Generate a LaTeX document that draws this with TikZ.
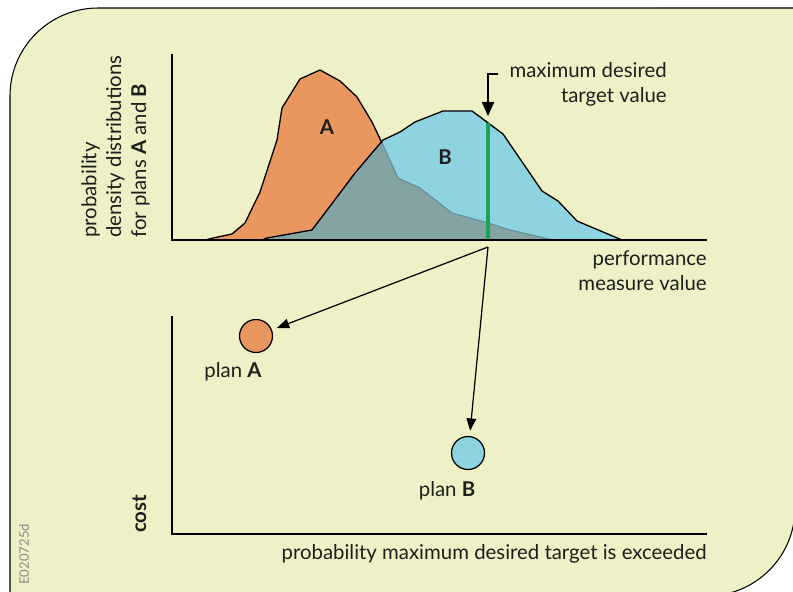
\documentclass[tikz,border=0pt]{standalone}
\usepackage{fontspec}
\setmainfont{Lato}
\usetikzlibrary{arrows.meta}

\definecolor{panel}{HTML}{EEF0C6}
\definecolor{planorange}{HTML}{E9965F}
\definecolor{planblue}{HTML}{8DD4E0}
\definecolor{overlap}{HTML}{84A4A4}
\definecolor{hiddenedge}{HTML}{5F8E98}
\definecolor{targetgreen}{HTML}{1BA35C}
\definecolor{textgray}{HTML}{1E1E1E}

\newcommand{\curveA}{(205,240) -- (213,238) -- (232,234) -- (245,223) -- (260,192) -- (277,140) -- (282,108) -- (300,79) -- (320,70) -- (340,81) -- (357,97) -- (372,122) -- (382,143) -- (398,178) -- (420,188) -- (452,213) -- (488,223) -- (510,230) -- (553,240)}
\newcommand{\curveB}{(262,240) -- (267,238) -- (312,230) -- (340,193) -- (355,173) -- (383,140) -- (400,132) -- (415,122) -- (443,111) -- (472,111) -- (503,134) -- (542,191) -- (558,201) -- (577,221) -- (622,240)}

\begin{document}
\begin{tikzpicture}[x=0.02cm,y=-0.02cm,
  every node/.style={font=\fontsize{11.6}{14.2}\selectfont, text=textgray, inner sep=0pt},
  axis/.style={line width=1.6pt, line join=miter},
  edge/.style={line width=0.75pt, line join=round},
  pointer/.style={line width=0.7pt, -{Triangle[length=7pt,width=5.5pt]}},
  plan/.style={circle, draw=black, line width=0.7pt, minimum size=0.66cm}]

\useasboundingbox (0,0) rectangle (793,591);
\clip (0,0) rectangle (793,591);

% panel
\draw[fill=panel, line width=0.6pt] (10,596) -- (10,96) arc[start angle=180, end angle=90, radius=1.76cm] -- (795,8) -- (795,508) arc[start angle=0, end angle=-90, radius=1.76cm] -- cycle;

% distributions
\fill[planblue] \curveB -- cycle;
\fill[planorange] \curveA -- cycle;
\begin{scope}
\clip \curveA -- cycle;
\fill[overlap] \curveB -- cycle;
\end{scope}
\draw[edge] (205,240) -- (213,238) -- (232,234) -- (245,223) -- (260,192) -- (277,140) -- (282,108) -- (300,79) -- (320,70) -- (340,81) -- (357,97) -- (372,122) -- (382,143);
\draw[edge, draw=hiddenedge, line width=0.6pt] (382,143) -- (398,178) -- (420,188) -- (452,213) -- (488,223) -- (510,230) -- (553,240);
\draw[edge] \curveB;
\draw[targetgreen, line width=1.8pt] (488,240) -- (488,123);

\node[font=\fontsize{11.6}{14.2}\selectfont\bfseries] (labA) at (327,127) {A};
\node[font=\fontsize{11.6}{14.2}\selectfont\bfseries] (labB) at (445,157) {B};

% axes
\draw[axis] (172,54) -- (172,240) -- (707,240);
\draw[axis] (172,316) -- (172,534) -- (707,534);

\node[rotate=90, anchor=south west, align=left] (density) at (150,238) {probability\\density distributions\\for plans \textbf{A} and \textbf{B}};
\node[anchor=north east, align=right] (perf) at (707,250) {performance\\measure value};
\node[anchor=north east, align=right] (maxlabel) at (667,62) {maximum desired\\target value};
\node[rotate=90, anchor=base west, font=\fontsize{11.6}{14.2}\selectfont\bfseries] (cost) at (146,533) {cost};
\node[anchor=north east] (exceed) at (707,544) {probability maximum desired target is exceeded};
\node[rotate=90, anchor=base west, font=\fontsize{7.5}{8}\selectfont, text=black!45] (code) at (29,585) {E020725d};

% plans
\node[plan, fill=planorange] (planA) at (256,336) {};
\node[plan, fill=planblue] (planB) at (468,453) {};
\node (nameA) at (233,372) {plan \textbf{A}};
\node (nameB) at (447,491) {plan \textbf{B}};

\coordinate (maxstart) at (498,74);
\coordinate (maxtip) at (488,116);
\coordinate (split) at (488,247);
\draw[pointer, -{Triangle[length=8pt,width=7pt]}] (maxstart) -| (maxtip);
\draw[pointer, shorten >=3pt] (split) -- (planA);
\draw[pointer, shorten >=3pt] (split) -- (planB);

\end{tikzpicture}
\end{document}
